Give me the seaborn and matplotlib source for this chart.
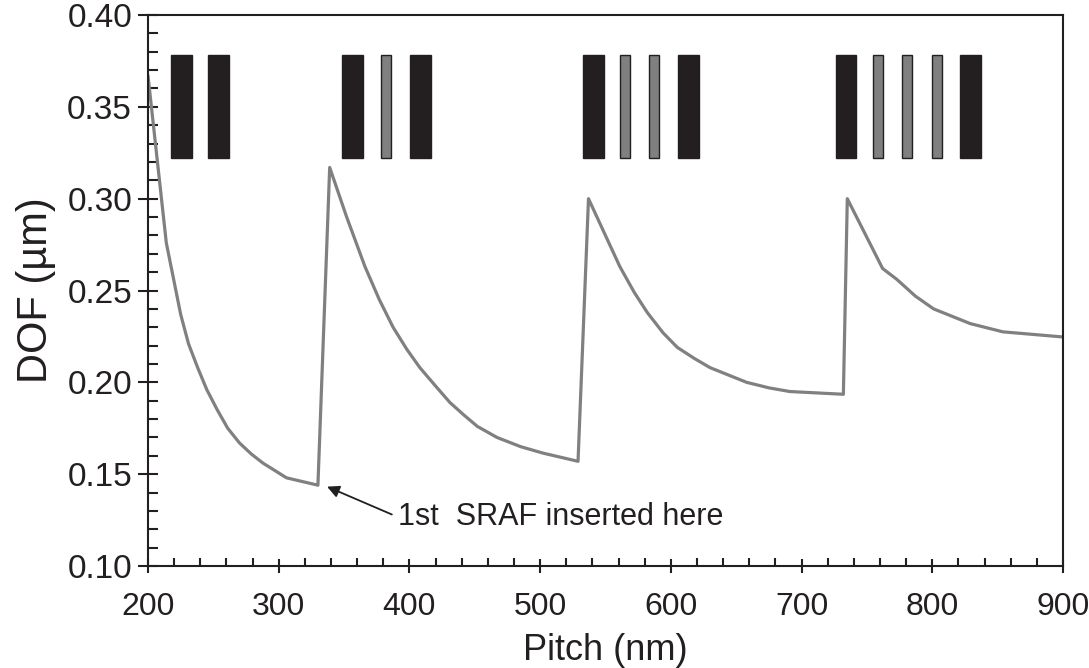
import matplotlib
matplotlib.use("Agg")
import matplotlib.pyplot as plt
from matplotlib.ticker import MultipleLocator
import seaborn as sns
import pandas as pd

# DOF vs pitch
pitch = [200, 214, 225, 231, 238, 245, 253, 261, 270, 279, 288, 297, 306, 330,
         339, 352, 366, 377, 387.5, 398, 408, 420, 431, 442, 452, 467, 485, 502, 529,
         537, 561, 572, 582, 594, 605, 618, 630, 644, 658, 675, 691, 732,
         735, 762, 773, 787, 801, 815, 829, 854, 900]
dof = [0.367, 0.276, 0.237, 0.221, 0.208, 0.196, 0.185, 0.175, 0.167, 0.161, 0.156, 0.152, 0.148, 0.144,
       0.317, 0.290, 0.263, 0.245, 0.230, 0.218, 0.208, 0.198, 0.189, 0.182, 0.176, 0.170, 0.165, 0.1615, 0.157,
       0.300, 0.263, 0.249, 0.238, 0.227, 0.219, 0.213, 0.208, 0.204, 0.200, 0.197, 0.195, 0.1935,
       0.300, 0.262, 0.256, 0.247, 0.240, 0.236, 0.232, 0.2275, 0.2247]

# mask pattern pictograms (main lines black, SRAFs gray)
feat_center = [225.6, 254, 356.5, 382, 408.5, 540.5, 565, 587, 613.5,
               734, 758.5, 780.8, 803.7, 829.3]
feat_kind = ["main", "main", "main", "sraf", "main", "main", "sraf", "sraf", "main",
             "main", "sraf", "sraf", "sraf", "main"]
feat_bottom = 0.322
feat_top = 0.378

df = pd.DataFrame({"pitch": pitch, "dof": dof})

sns.set_style("ticks")
plt.rcParams["font.family"] = ["Liberation Sans", "DejaVu Sans"]

fig = plt.figure(figsize=(10.89, 6.68), dpi=100)
ax = fig.add_axes([0.1359, 0.1527, 0.8402, 0.8248])

sns.lineplot(df, x="pitch", y="dof", ax=ax, color="#808080", linewidth=2.3,
             sort=False, estimator=None)

widths = [16 if k == "main" else 7.7 for k in feat_kind]
fills = ["#231f20" if k == "main" else "#808080" for k in feat_kind]
ax.bar(feat_center, [feat_top - feat_bottom] * len(feat_center), width=widths,
       bottom=feat_bottom, color=fills, edgecolor="#231f20", linewidth=1.0, zorder=3)

ax.annotate("1st  SRAF inserted here", xy=(337, 0.1432), xytext=(391, 0.1267),
            fontsize=22, va="center", ha="left", color="#231f20",
            arrowprops=dict(arrowstyle="-|>", color="#231f20", lw=1.3,
                            shrinkA=2, shrinkB=0, mutation_scale=18,
                            relpos=(0, 0.5)))

ax.set_xlim(200, 900)
ax.set_ylim(0.10, 0.40)
ax.xaxis.set_major_locator(MultipleLocator(100))
ax.xaxis.set_minor_locator(MultipleLocator(20))
ax.yaxis.set_major_locator(MultipleLocator(0.05))
ax.yaxis.set_minor_locator(MultipleLocator(0.01))
ax.yaxis.set_major_formatter(plt.FormatStrFormatter("%.2f"))

ax.tick_params(axis="x", which="major", direction="inout", length=10, width=1.5,
               labelsize=23, pad=14, colors="#231f20")
ax.tick_params(axis="x", which="minor", direction="in", length=6, width=1.5, colors="#231f20")
ax.tick_params(axis="y", which="major", direction="inout", length=15, width=1.5,
               labelsize=24, pad=4, colors="#231f20")
ax.tick_params(axis="y", which="minor", direction="in", length=7, width=1.5, colors="#231f20")

for s in ax.spines.values():
    s.set_linewidth(1.5)
    s.set_color("#231f20")

ax.set_xlabel("Pitch (nm)", fontsize=26, labelpad=8, color="#231f20")
ax.set_ylabel("DOF (\u00b5m)", fontsize=30, labelpad=8, color="#231f20")

fig.savefig("out.png", dpi=100)
